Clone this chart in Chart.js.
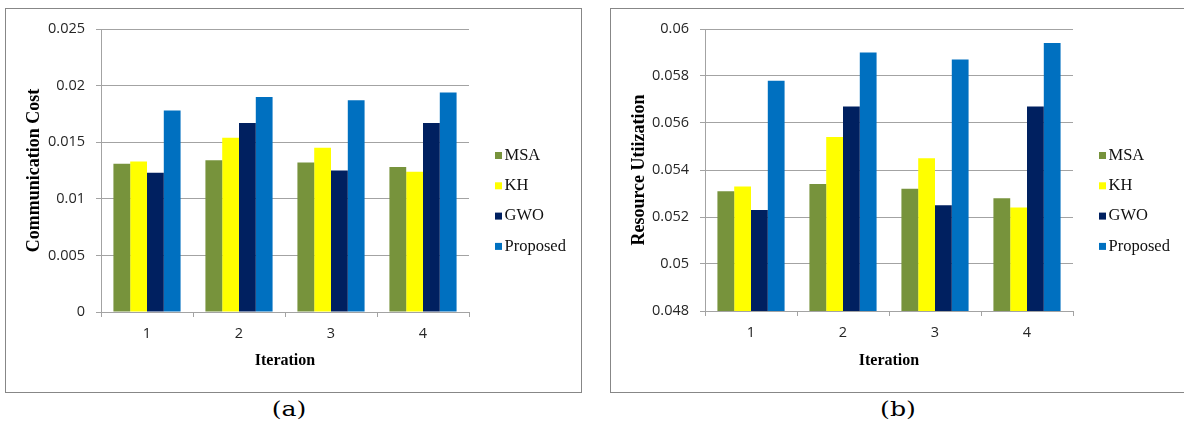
<!DOCTYPE html>
<html>
<head>
<meta charset="utf-8">
<script src="https://cdn.jsdelivr.net/npm/chart.js@4.4.1/dist/chart.umd.min.js"></script>
<style>
  html, body { margin: 0; padding: 0; background: #fff; width: 1184px; height: 425px; overflow: hidden; position: relative; }
  .panel { position: absolute; top: 8px; height: 385px; border: 1px solid #878787; box-sizing: border-box; background: #fff; }
  #panelA { left: 5px; width: 577px; }
  #panelB { left: 610px; width: 600px; }
  canvas { display: block; }
  .caption { position: absolute; top: 399px; font-family: "DejaVu Serif", serif; font-size: 21px; line-height: 21px; color: #000; white-space: nowrap; transform: translateX(-50%) scaleX(1.2); }
</style>
</head>
<body>
<div class="panel" id="panelA"><canvas id="chartA" width="575" height="383"></canvas></div>
<div class="panel" id="panelB"><canvas id="chartB" width="598" height="383"></canvas></div>
<div class="caption" style="left:289px">(a)</div>
<div class="caption" style="left:898px">(b)</div>

<script>
// Iterations on the x axis
const categories = ['1', '2', '3', '4'];
const seriesNames = ['MSA', 'KH', 'GWO', 'Proposed'];

// Communication cost per iteration
const commMSA      = [0.0131, 0.0134, 0.0132, 0.0128];
const commKH       = [0.0133, 0.0154, 0.0145, 0.0124];
const commGWO      = [0.0123, 0.0167, 0.0125, 0.0167];
const commProposed = [0.0178, 0.0190, 0.0187, 0.0194];

// Resource utilization per iteration
const resMSA      = [0.0531, 0.0534, 0.0532, 0.0528];
const resKH       = [0.0533, 0.0554, 0.0545, 0.0524];
const resGWO      = [0.0523, 0.0567, 0.0525, 0.0567];
const resProposed = [0.0578, 0.0590, 0.0587, 0.0594];

// Series colours
const palette = ['#77933C', '#FFFF00', '#002060', '#0070C0'];

const GRID = '#a3a3a3';
const TICK_FONT = { family: '"Open Sans", sans-serif', size: 14.5 };

// Legend drawn beside the plot area from the dataset labels and colours
const sideLegend = {
  id: 'sideLegend',
  afterDraw(chart, args, opts) {
    const ctx = chart.ctx;
    const x0 = chart.chartArea.right + opts.gap;
    ctx.save();
    ctx.font = opts.font;
    ctx.textBaseline = 'middle';
    ctx.textAlign = 'left';
    chart.data.datasets.forEach((ds, i) => {
      const y = opts.top + i * opts.pitch;
      ctx.fillStyle = ds.backgroundColor;
      ctx.fillRect(x0, y - opts.box / 2, opts.box, opts.box);
      ctx.fillStyle = opts.color;
      ctx.fillText(ds.label, x0 + opts.box + opts.textGap, y);
    });
    ctx.restore();
  }
};

function trimNumber(v) {
  return String(parseFloat(Number(v).toFixed(4)));
}

function buildChart(canvasId, cfg) {
  return new Chart(document.getElementById(canvasId), {
    type: 'bar',
    data: {
      labels: categories,
      datasets: cfg.series.map((values, i) => ({
        label: seriesNames[i],
        data: values,
        backgroundColor: palette[i],
        borderWidth: 0,
        categoryPercentage: 0.73,
        barPercentage: 1.0
      }))
    },
    plugins: [sideLegend],
    options: {
      responsive: false,
      animation: false,
      devicePixelRatio: 1,
      layout: { padding: { top: 20, right: cfg.padRight, bottom: 0, left: 0 } },
      plugins: {
        legend: { display: false },
        tooltip: { enabled: false },
        sideLegend: {
          gap: 26, box: 7, textGap: 2.5, top: 146.5, pitch: 30.3,
          font: '16.5px "Liberation Serif", serif', color: '#111'
        }
      },
      scales: {
        x: {
          offset: true,
          grid: { display: true, drawOnChartArea: false, drawTicks: true, tickLength: 5, color: GRID, offset: true },
          border: { display: true, color: GRID },
          ticks: { font: TICK_FONT, color: '#262626', padding: 8.5, maxRotation: 0 },
          title: {
            display: true, text: 'Iteration', color: '#000',
            font: { family: '"Liberation Serif", serif', size: 16, weight: 'bold' },
            padding: { top: 0, bottom: 21.5 }
          },
          afterFit(scale) { scale.height = cfg.xHeight; }
        },
        y: {
          min: cfg.min, max: cfg.max,
          grid: { color: GRID, drawTicks: true, tickLength: 5 },
          border: { display: true, color: GRID },
          ticks: { stepSize: cfg.step, font: TICK_FONT, color: '#262626', padding: 11, callback: trimNumber },
          title: {
            display: true, text: cfg.yTitle, color: '#000',
            font: { family: '"Liberation Serif", serif', size: 18, weight: 'bold' },
            padding: { top: 18, bottom: 0 }
          },
          afterFit(scale) { scale.width = cfg.yWidth; }
        }
      }
    }
  });
}

buildChart('chartA', {
  series: [commMSA, commKH, commGWO, commProposed],
  min: 0, max: 0.025, step: 0.005,
  yTitle: 'Communication Cost',
  yWidth: 95, xHeight: 80, padRight: 112
});

buildChart('chartB', {
  series: [resMSA, resKH, resGWO, resProposed],
  min: 0.048, max: 0.06, step: 0.002,
  yTitle: 'Resource Utiization',
  yWidth: 94, xHeight: 81, padRight: 136
});
</script>
</body>
</html>
